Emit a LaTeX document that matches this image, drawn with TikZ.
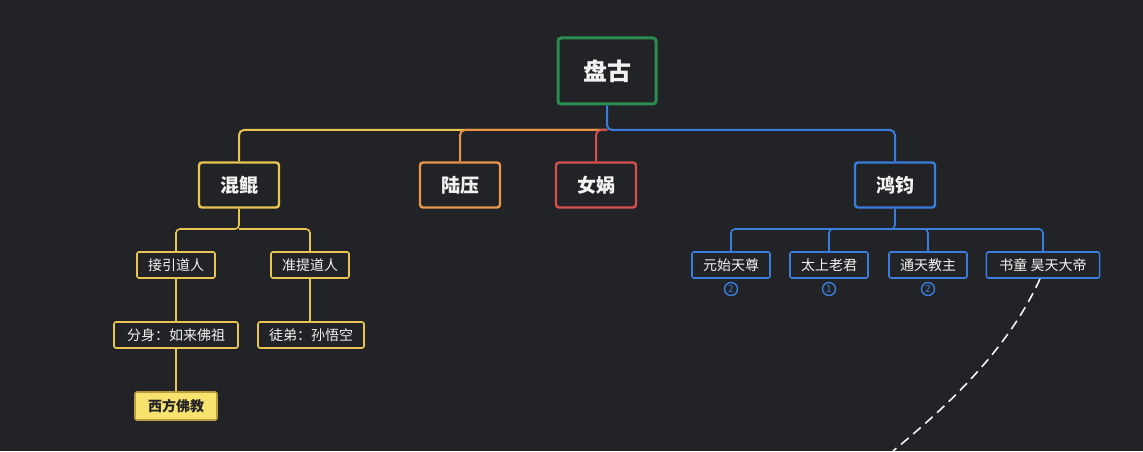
\documentclass[tikz,border=0pt]{standalone}
\usepackage{fontspec}
\setmainfont{Noto Sans CJK SC}
\usepackage{tikz}
\usetikzlibrary{calc}

\definecolor{bg}{HTML}{222327}
\definecolor{pgreen}{HTML}{2A8C4F}
\definecolor{pyellow}{HTML}{E9C452}
\definecolor{porange}{HTML}{E8954B}
\definecolor{pred}{HTML}{D6504F}
\definecolor{pblue}{HTML}{3B7DDD}
\definecolor{pfill}{HTML}{F7E36E}
\definecolor{ptext}{HTML}{F2F2F2}

\tikzset{
	rootbox/.style={draw=pgreen, line width=3pt, rounded corners=3pt, minimum width=98pt, minimum height=66pt, text=ptext, font=\bfseries\fontsize{24}{24}\selectfont},
	topicbox/.style={line width=2.4pt, rounded corners=3pt, minimum width=80pt, minimum height=45pt, text=ptext, font=\bfseries\fontsize{19}{19}\selectfont},
	subbox/.style={line width=1.6pt, rounded corners=2pt, inner xsep=11pt, minimum height=26pt, text=ptext, font=\fontsize{14}{14}\selectfont},
	count/.style={circle, draw=pblue, line width=1.4pt, inner sep=0pt, minimum size=13pt, text=pblue, font=\fontsize{10}{10}\selectfont},
	link/.style={line width=2pt, rounded corners=5pt},
	sublink/.style={line width=1.6pt, rounded corners=4pt}
}

\begin{document}
\begin{tikzpicture}[x=1pt,y=-1pt]
	\fill[bg] (0,0) rectangle (1143,451);

	\node[rootbox] (pangu) at (607,71) {盘古};

	\node[topicbox, draw=pyellow] (hunkun) at (239,185) {混鲲};
	\node[topicbox, draw=porange] (luya) at (460,185) {陆压};
	\node[topicbox, draw=pred] (nvwa) at (596,185) {女娲};
	\node[topicbox, draw=pblue] (hongjun) at (895,185) {鸿钧};

	\node[subbox, draw=pyellow] (jieyin) at (176,265) {接引道人};
	\node[subbox, draw=pyellow] (zhunti) at (310,265) {准提道人};
	\node[subbox, draw=pyellow, inner xsep=13pt] (rulai) at (176,335) {分身：如来佛祖};
	\node[subbox, draw=pyellow] (wukong) at (311,335) {徒弟：孙悟空};
	\node[subbox, draw=pyellow!80!black, fill=pfill, text=bg, minimum width=82pt, minimum height=28pt, font=\bfseries\fontsize{14}{14}\selectfont] (xifang) at (176,406) {西方佛教};

	\node[subbox, draw=pblue] (yuanshi) at (731,265) {元始天尊};
	\node[subbox, draw=pblue] (taishang) at (829,265) {太上老君};
	\node[subbox, draw=pblue] (tongtian) at (928,265) {通天教主};
	\node[subbox, draw=pblue, inner xsep=13pt] (shutong) at (1043,265) {书童 昊天大帝};

	\node[count] (yuanshin) at (731,289) {2};
	\node[count] (taishangn) at (829,289) {1};
	\node[count] (tongtiann) at (928,289) {2};

	% junctions
	\coordinate (pgj) at (607,130);
	\coordinate (hkj) at (239,229);
	\coordinate (hjj) at (895,229);
	\coordinate (hteq) at (893,451);

	\draw[link, pyellow] (pgj) -| (hunkun.north);
	\draw[link, porange] (pgj) -| (luya.north);
	\draw[link, pred] (pgj) -| (nvwa.north);
	\draw[link, pblue] (pangu.south) -- (pgj) -| (hongjun.north);

	\draw[sublink, pyellow] (hunkun.south) -- (hkj) -| (jieyin.north);
	\draw[sublink, pyellow] (hkj) -| (zhunti.north);
	\draw[sublink, pyellow] (jieyin) -- (rulai);
	\draw[sublink, pyellow] (zhunti.south) -- (zhunti.south |- wukong.north);
	\draw[sublink, pyellow] (rulai) -- (xifang);

	\draw[sublink, pblue] (hongjun.south) -- (hjj) -| (yuanshi.north);
	\draw[sublink, pblue] (hjj) -| (taishang.north);
	\draw[sublink, pblue] (hjj) -| (tongtian.north);
	\draw[sublink, pblue] (hjj) -| (shutong.north);

	\draw[ptext, line width=1.6pt, dash pattern=on 10pt off 6pt] ([xshift=-3pt]shutong.south) .. controls (1010,345) and (955,400) .. (hteq);
\end{tikzpicture}
\end{document}
